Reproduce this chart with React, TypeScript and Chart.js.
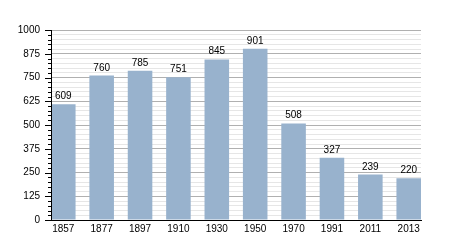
import { useEffect, useRef } from 'react';
import { Chart, registerables } from 'chart.js';

Chart.register(...registerables);

const years = ['1857', '1877', '1897', '1910', '1930', '1950', '1970', '1991', '2011', '2013'];
const population = [609, 760, 785, 751, 845, 901, 508, 327, 239, 220];
const yMax = 1000;
const yMajorStep = 125;
const yMinorStep = 25;

const FONT = '"Liberation Sans", Arial, Helvetica, sans-serif';
const BAR_COLOR = '#98b2cd';

const yTickMarks = {
  id: 'yTickMarks',
  afterDraw(chart: any) {
    const s = chart.scales.y;
    const ctx = chart.ctx;
    ctx.save();
    ctx.strokeStyle = '#000';
    ctx.lineWidth = 1;
    s.ticks.forEach((t: any) => {
      const y = Math.round(s.getPixelForValue(t.value)) + 0.5;
      const len = t.value % yMajorStep === 0 ? 6 : 3;
      ctx.beginPath();
      ctx.moveTo(s.right - len, y);
      ctx.lineTo(s.right, y);
      ctx.stroke();
    });
    ctx.restore();
  },
};

const valueLabels = {
  id: 'valueLabels',
  afterDatasetsDraw(chart: any) {
    const ctx = chart.ctx;
    const meta = chart.getDatasetMeta(0);
    ctx.save();
    ctx.fillStyle = '#000';
    ctx.font = `10px ${FONT}`;
    ctx.textAlign = 'center';
    ctx.textBaseline = 'alphabetic';
    meta.data.forEach((bar: any, i: number) => {
      ctx.fillText(String(population[i]), bar.x, bar.y - 5);
    });
    ctx.restore();
  },
};

export default function App() {
  const ref = useRef<HTMLCanvasElement>(null);
  useEffect(() => {
    const half = 0.32;
    const chart = new Chart(ref.current!, {
      type: 'bar',
      data: {
        datasets: [
          {
            data: population.map((v, i) => ({ x: i, y: v })),
            backgroundColor: BAR_COLOR,
            borderWidth: 0,
            categoryPercentage: 1,
            barPercentage: 2 * half,
          },
        ],
      },
      options: {
        animation: false,
        responsive: false,
        maintainAspectRatio: false,
        layout: { padding: { top: 30, right: 29, left: 0, bottom: 0 } },
        plugins: { legend: { display: false }, tooltip: { enabled: false } },
        scales: {
          x: {
            type: 'linear',
            offset: false,
            min: -half,
            max: years.length - 1 + half,
            grid: { display: false, drawTicks: false, offset: false },
            border: { display: true, color: '#000', z: 1 },
            ticks: {
              stepSize: 1,
              includeBounds: false,
              autoSkip: false,
              maxRotation: 0,
              padding: 3,
              color: '#000',
              font: { family: FONT, size: 10 },
              callback: (v: any) => years[Math.round(v)] ?? '',
            },
            afterFit: (s: any) => {
              s.height = 30;
            },
          },
          y: {
            min: 0,
            max: yMax,
            grid: {
              drawTicks: false,
              color: (c: any) => (c.tick && c.tick.value % yMajorStep === 0 ? '#b0b0b0' : '#e6e6e6'),
            },
            border: { display: true, color: '#000', z: 1 },
            ticks: {
              stepSize: yMinorStep,
              autoSkip: false,
              padding: 11,
              color: '#000',
              font: { family: FONT, size: 10 },
              callback: (v: any) => (v % yMajorStep === 0 ? String(v) : ''),
            },
            afterFit: (s: any) => {
              s.width = 51;
            },
          },
        },
      } as any,
      plugins: [yTickMarks, valueLabels],
    });
    return () => chart.destroy();
  }, []);
  return (
    <div style={{ position: 'fixed', left: 0, top: 0, width: 450, height: 250, background: '#fff' }}>
      <canvas ref={ref} width={450} height={250} />
    </div>
  );
}
